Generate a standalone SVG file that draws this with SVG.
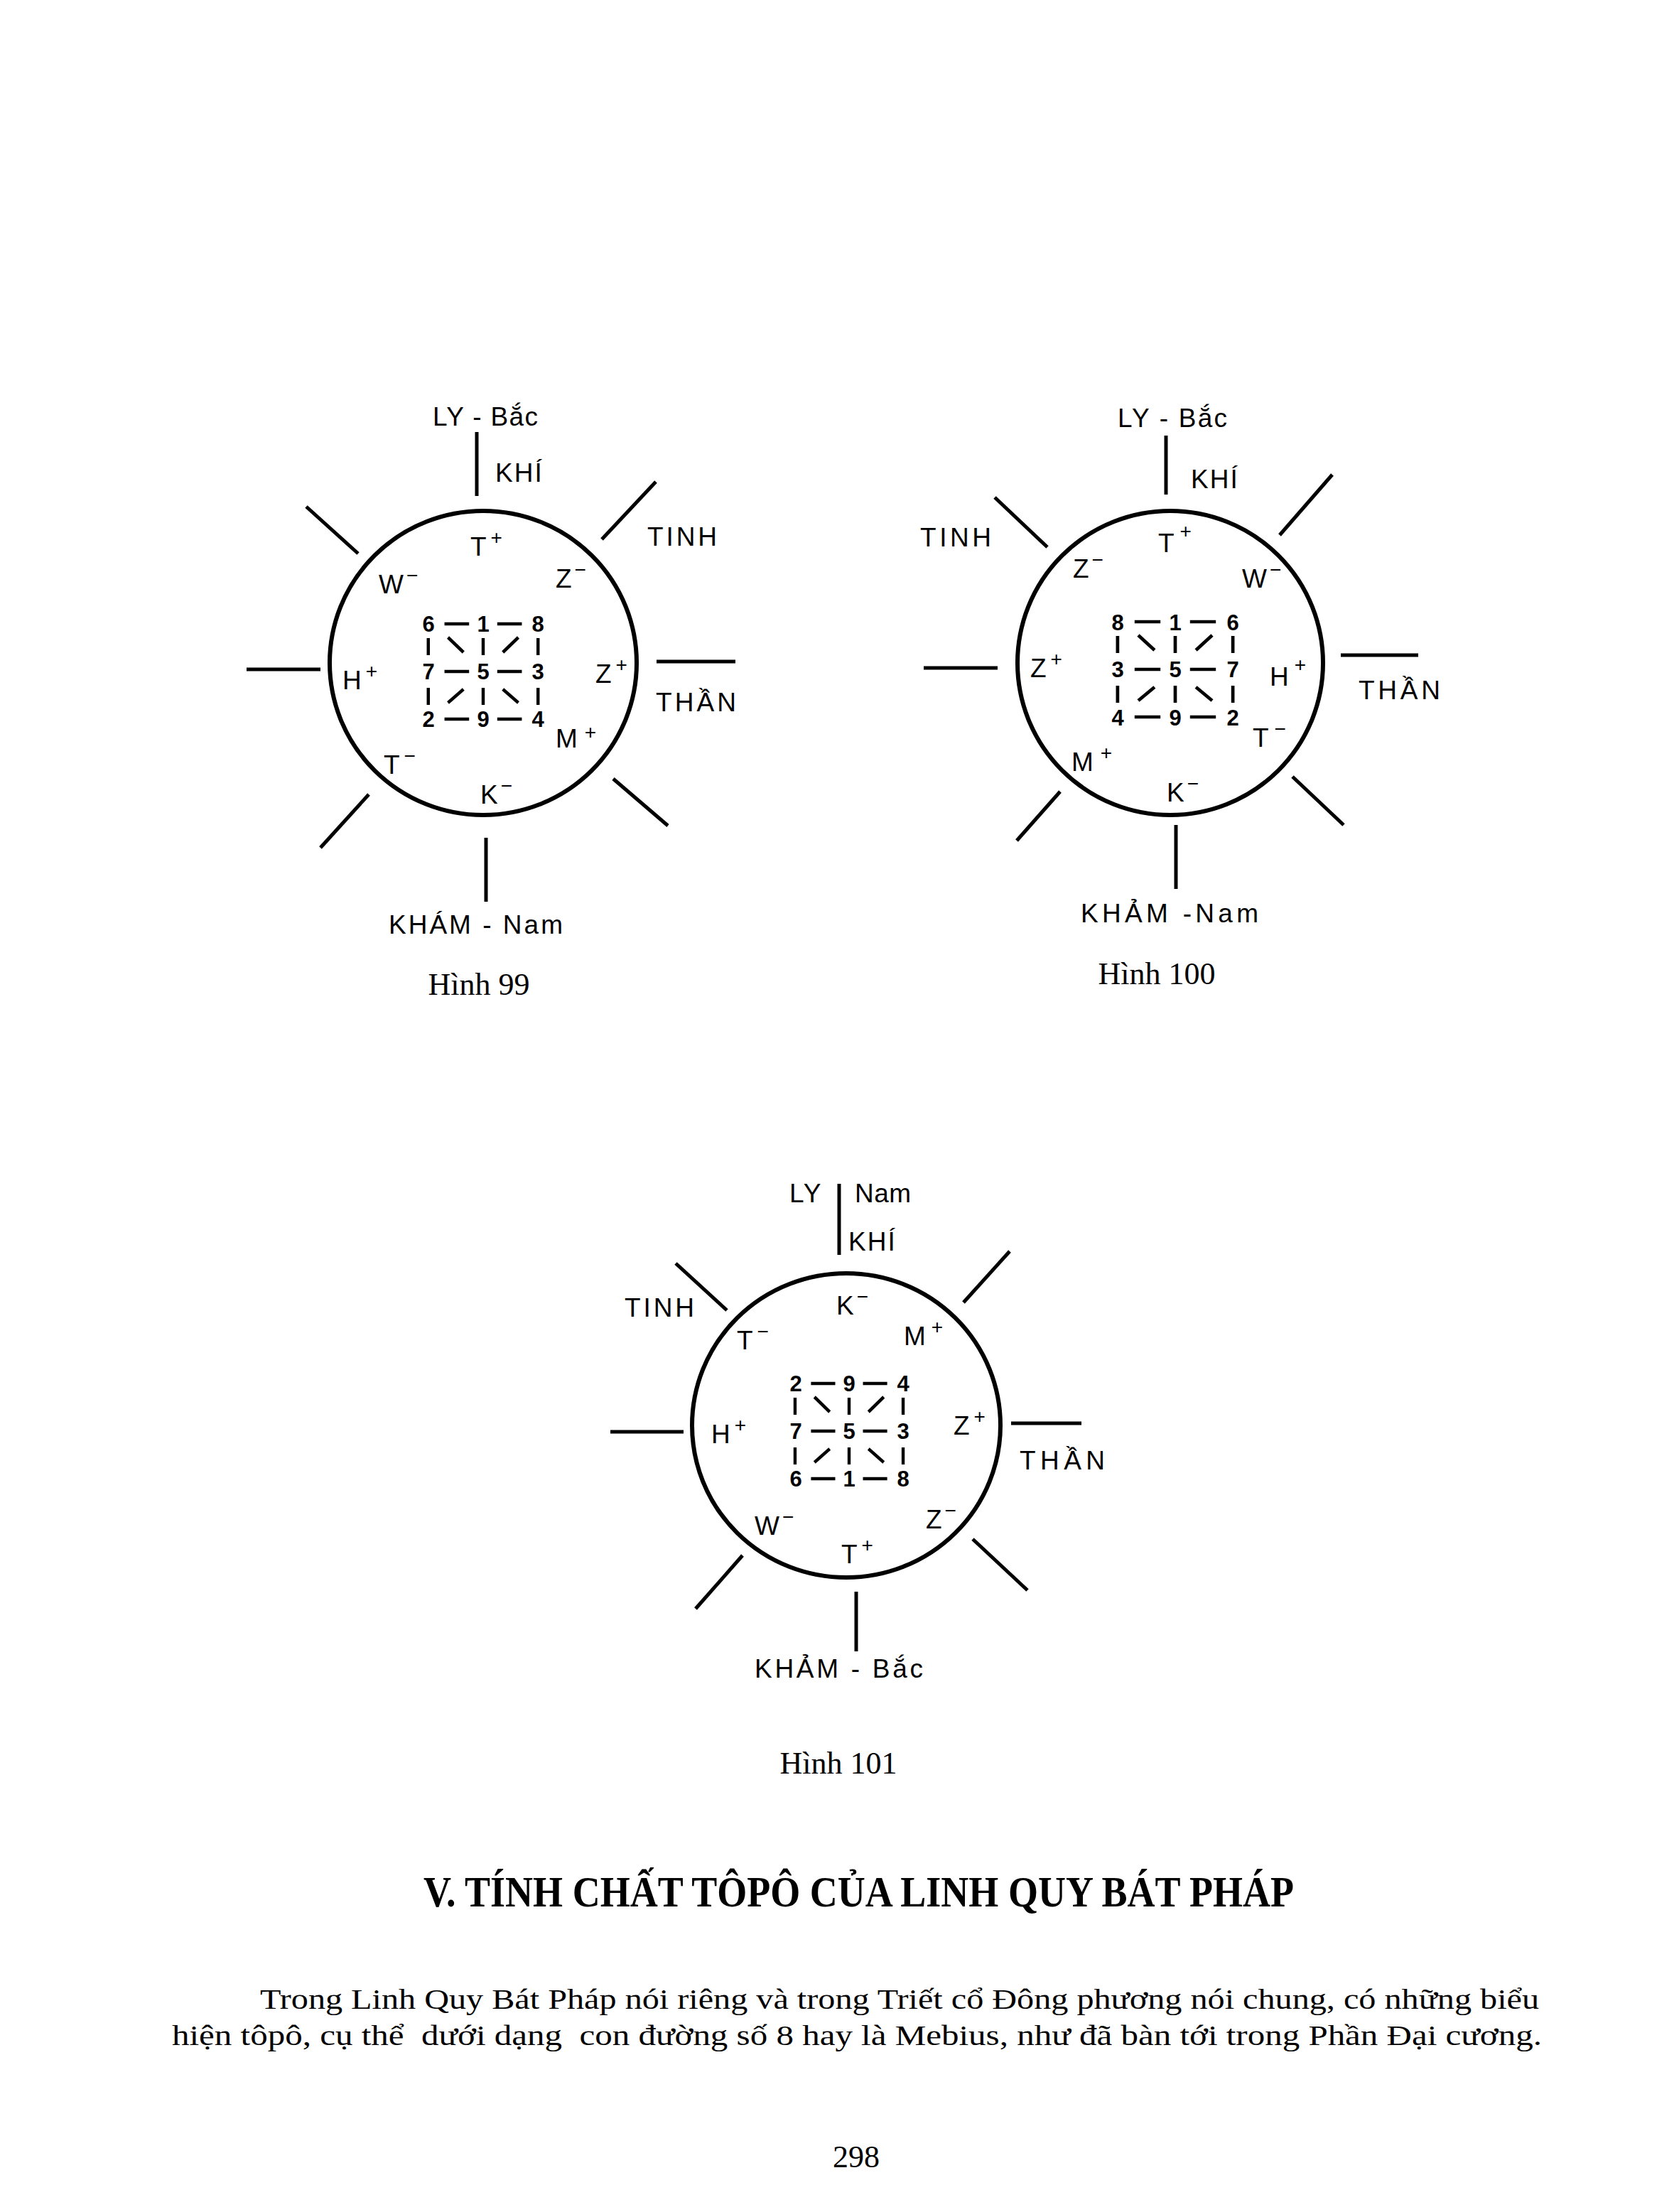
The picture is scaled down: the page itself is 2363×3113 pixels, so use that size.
<svg xmlns="http://www.w3.org/2000/svg" xmlns:xlink="http://www.w3.org/1999/xlink" width="2363" height="3113" viewBox="0 0 2363 3113">
<style>
.bg{fill:#fff}
.circ{fill:none;stroke:#000;stroke-width:6}
.ray{stroke:#000;stroke-width:5;fill:none}
.gl{stroke:#000;stroke-width:4.5;fill:none}
.lbl{font-family:"Liberation Sans",Arial,sans-serif;font-size:37px;fill:#000}
.sup{font-size:28px}
.out{font-family:"Liberation Sans",Arial,sans-serif;font-size:37px;fill:#000;letter-spacing:2px}
.dig{font-family:"Liberation Sans",Arial,sans-serif;font-weight:bold;font-size:31px;fill:#000;text-anchor:middle}
.cap{font-family:"Liberation Serif","Times New Roman",serif;font-size:44px;fill:#000;text-anchor:middle}
.title{font-family:"Liberation Serif","Times New Roman",serif;font-weight:bold;font-size:62px;fill:#000}
.para{font-family:"Liberation Serif","Times New Roman",serif;font-size:40px;fill:#000}
</style>
<defs>
<g id="gridlines" class="gl">
<line x1="-55" y1="-67" x2="-20" y2="-67"/><line x1="20" y1="-67" x2="55" y2="-67"/>
<line x1="-55" y1="0" x2="-20" y2="0"/><line x1="20" y1="0" x2="55" y2="0"/>
<line x1="-55" y1="67" x2="-20" y2="67"/><line x1="20" y1="67" x2="55" y2="67"/>
<line x1="-78" y1="-47" x2="-78" y2="-23"/><line x1="0" y1="-47" x2="0" y2="-23"/><line x1="78" y1="-47" x2="78" y2="-23"/>
<line x1="-78" y1="23" x2="-78" y2="47"/><line x1="0" y1="23" x2="0" y2="47"/><line x1="78" y1="23" x2="78" y2="47"/>
<line x1="-50" y1="-48" x2="-28" y2="-27"/><line x1="50" y1="-48" x2="28" y2="-27"/>
<line x1="-28" y1="25" x2="-50" y2="44"/><line x1="28" y1="25" x2="50" y2="44"/>
</g>
</defs>
<rect class="bg" x="0" y="0" width="2363" height="3113"/>

<g id="connectors">
<g id="rays-99" class="ray">
<line x1="671" y1="608" x2="671" y2="698"/>
<line x1="431" y1="713" x2="504" y2="779"/>
<line x1="923" y1="678" x2="847" y2="759"/>
<line x1="347" y1="942" x2="451" y2="942"/>
<line x1="924" y1="931" x2="1035" y2="931"/>
<line x1="519" y1="1118" x2="451" y2="1193"/>
<line x1="863" y1="1096" x2="940" y2="1162"/>
<line x1="684" y1="1179" x2="684" y2="1269"/>
</g>
<g id="rays-100" class="ray">
<line x1="1641" y1="613" x2="1641" y2="696"/>
<line x1="1400" y1="700" x2="1474" y2="770"/>
<line x1="1875" y1="668" x2="1801" y2="753"/>
<line x1="1300" y1="940" x2="1404" y2="940"/>
<line x1="1887" y1="922" x2="1996" y2="922"/>
<line x1="1492" y1="1114" x2="1431" y2="1183"/>
<line x1="1819" y1="1093" x2="1891" y2="1161"/>
<line x1="1655" y1="1161" x2="1655" y2="1251"/>
</g>
<g id="rays-101" class="ray">
<line x1="1181" y1="1666" x2="1181" y2="1766"/>
<line x1="951" y1="1778" x2="1023" y2="1844"/>
<line x1="1421" y1="1761" x2="1356" y2="1833"/>
<line x1="859" y1="2015" x2="962" y2="2015"/>
<line x1="1423" y1="2003" x2="1522" y2="2003"/>
<line x1="1045" y1="2189" x2="979" y2="2264"/>
<line x1="1369" y1="2166" x2="1446" y2="2238"/>
<line x1="1205" y1="2240" x2="1205" y2="2324"/>
</g>
<use id="grid-99" xlink:href="#gridlines" href="#gridlines" transform="translate(680,945) scale(0.99,1)"/>
<use id="grid-100" xlink:href="#gridlines" href="#gridlines" transform="translate(1654,942) scale(1.04,1)"/>
<use id="grid-101" xlink:href="#gridlines" href="#gridlines" transform="translate(1195,2014) scale(0.975,1)"/>
</g>

<g id="hinh-99">
<ellipse id="circle-99" class="circ" cx="680" cy="933" rx="216" ry="214"/>
<text class="out" x="609" y="599" textLength="150">LY - Bắc</text>
<text class="out" x="697" y="678">KHÍ</text>
<text class="out" x="911" y="768" textLength="100">TINH</text>
<text class="out" x="923" y="1001" textLength="115">THẦN</text>
<text class="out" x="547" y="1314" textLength="247">KHÁM - Nam</text>
<g id="labels-99" class="lbl">
<text x="662" y="782">T<tspan class="sup" dx="6" dy="-16">+</tspan></text>
<text x="533" y="835">W<tspan class="sup" dx="4" dy="-16">−</tspan></text>
<text x="782" y="827">Z<tspan class="sup" dx="4" dy="-16">−</tspan></text>
<text x="482" y="970">H<tspan class="sup" dx="6" dy="-16">+</tspan></text>
<text x="838" y="961">Z<tspan class="sup" dx="6" dy="-16">+</tspan></text>
<text x="782" y="1052">M<tspan class="sup" dx="10" dy="-12">+</tspan></text>
<text x="540" y="1089">T<tspan class="sup" dx="6" dy="-16">−</tspan></text>
<text x="676" y="1131">K<tspan class="sup" dx="4" dy="-16">−</tspan></text>
</g>
<g id="digits-99" class="dig">
<text x="603" y="889">6</text><text x="680" y="889">1</text><text x="757" y="889">8</text>
<text x="603" y="956">7</text><text x="680" y="956">5</text><text x="757" y="956">3</text>
<text x="603" y="1023">2</text><text x="680" y="1023">9</text><text x="757" y="1023">4</text>
</g>
<text class="cap" x="674" y="1400">Hình 99</text>
</g>

<g id="hinh-100">
<ellipse id="circle-100" class="circ" cx="1647" cy="933" rx="215" ry="214"/>
<text class="out" x="1573" y="601" textLength="156">LY - Bắc</text>
<text class="out" x="1676" y="687">KHÍ</text>
<text class="out" x="1295" y="769" textLength="102">TINH</text>
<text class="out" x="1912" y="984" textLength="117">THẦN</text>
<text class="out" x="1521" y="1298" textLength="252">KHẢM -Nam</text>
<g id="labels-100" class="lbl">
<text x="1630" y="777">T<tspan class="sup" dx="8" dy="-20">+</tspan></text>
<text x="1510" y="813">Z<tspan class="sup" dx="4" dy="-16">−</tspan></text>
<text x="1748" y="827">W<tspan class="sup" dx="4" dy="-16">−</tspan></text>
<text x="1450" y="953">Z<tspan class="sup" dx="6" dy="-16">+</tspan></text>
<text x="1787" y="965">H<tspan class="sup" dx="8" dy="-20">+</tspan></text>
<text x="1763" y="1051">T<tspan class="sup" dx="8" dy="-16">−</tspan></text>
<text x="1508" y="1085">M<tspan class="sup" dx="10" dy="-16">+</tspan></text>
<text x="1642" y="1128">K<tspan class="sup" dx="4" dy="-16">−</tspan></text>
</g>
<g id="digits-100" class="dig">
<text x="1573" y="887">8</text><text x="1654" y="887">1</text><text x="1735" y="887">6</text>
<text x="1573" y="953">3</text><text x="1654" y="953">5</text><text x="1735" y="953">7</text>
<text x="1573" y="1021">4</text><text x="1654" y="1021">9</text><text x="1735" y="1021">2</text>
</g>
<text class="cap" x="1628" y="1385">Hình 100</text>
</g>

<g id="hinh-101">
<ellipse id="circle-101" class="circ" cx="1191" cy="2006" rx="217" ry="214"/>
<text class="out" x="1111" y="1692">LY</text>
<text class="out" x="1203" y="1692" textLength="81">Nam</text>
<text class="out" x="1194" y="1760">KHÍ</text>
<text class="out" x="879" y="1853" textLength="100">TINH</text>
<text class="out" x="1435" y="2068" textLength="122">THẦN</text>
<text class="out" x="1062" y="2361" textLength="239">KHẢM - Bắc</text>
<g id="labels-101" class="lbl">
<text x="1177" y="1850">K<tspan class="sup" dx="4" dy="-16">−</tspan></text>
<text x="1037" y="1899">T<tspan class="sup" dx="6" dy="-16">−</tspan></text>
<text x="1272" y="1893">M<tspan class="sup" dx="8" dy="-16">+</tspan></text>
<text x="1001" y="2031">H<tspan class="sup" dx="6" dy="-16">+</tspan></text>
<text x="1342" y="2019">Z<tspan class="sup" dx="6" dy="-16">+</tspan></text>
<text x="1062" y="2160">W<tspan class="sup" dx="4" dy="-16">−</tspan></text>
<text x="1303" y="2151">Z<tspan class="sup" dx="4" dy="-16">−</tspan></text>
<text x="1184" y="2200">T<tspan class="sup" dx="6" dy="-16">+</tspan></text>
</g>
<g id="digits-101" class="dig">
<text x="1120" y="1958">2</text><text x="1195" y="1958">9</text><text x="1271" y="1958">4</text>
<text x="1120" y="2025">7</text><text x="1195" y="2025">5</text><text x="1271" y="2025">3</text>
<text x="1120" y="2092">6</text><text x="1195" y="2092">1</text><text x="1271" y="2092">8</text>
</g>
<text class="cap" x="1180" y="2496">Hình 101</text>
</g>

<g id="text-block">
<text class="title" x="596" y="2683" textLength="1225" lengthAdjust="spacingAndGlyphs">V. TÍNH CHẤT TÔPÔ CỦA LINH QUY BÁT PHÁP</text>
<text class="para" x="366" y="2827" textLength="1800" lengthAdjust="spacingAndGlyphs">Trong Linh Quy Bát Pháp nói riêng và trong Triết cổ Đông phương nói chung, có những biểu</text>
<text class="para" x="242" y="2878" textLength="1928" lengthAdjust="spacingAndGlyphs" xml:space="preserve">hiện tôpô, cụ thể  dưới dạng  con đường số 8 hay là Mebius, như đã bàn tới trong Phần Đại cương.</text>
<text class="cap" x="1205" y="3050">298</text>
</g>
</svg>
